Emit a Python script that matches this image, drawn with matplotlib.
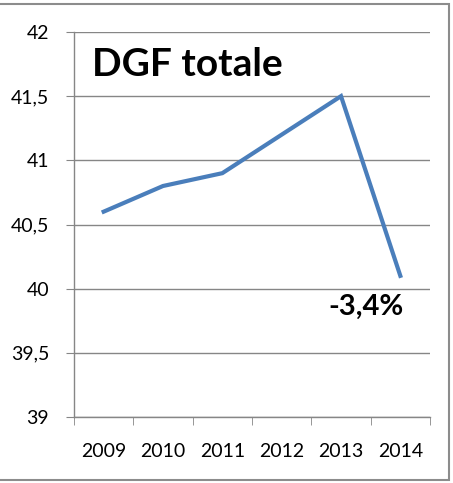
import matplotlib.pyplot as plt
from matplotlib.patches import Rectangle

years = ["2009", "2010", "2011", "2012", "2013", "2014"]
dgf = [40.6, 40.8, 40.9, 41.2, 41.5, 40.1]
y_ticks = [39, 39.5, 40, 40.5, 41, 41.5, 42]
y_labels = ["39", "39,5", "40", "40,5", "41", "41,5", "42"]

plt.rcParams["font.family"] = ["Lato", "DejaVu Sans"]

W, H = 453, 483
fig = plt.figure(figsize=(W / 100, H / 100), dpi=100)
ax = fig.add_axes([74 / W, 1 - 417 / H, (430 - 74) / W, (417 - 32) / H])

# chart border
fig.patches.append(Rectangle((-2 / W, 1 - 480 / H), 451 / W, 476 / H,
                             transform=fig.transFigure, fill=False,
                             edgecolor="#8c8c8c", linewidth=1.5))

x = range(len(years))
ax.plot(x, dgf, color="#4A7EBB", linewidth=3, solid_joinstyle="miter")

ax.set_xlim(-0.5, len(years) - 0.5)
ax.set_ylim(39, 42)
ax.set_yticks(y_ticks)
ax.set_yticklabels(y_labels)
ax.set_xticks(list(x))
ax.set_xticklabels(years)
ax.set_xticks([i - 0.5 for i in range(len(years) + 1)], minor=True)

ax.grid(axis="y", color="#868686", linewidth=1)
ax.set_axisbelow(True)
for s in ["top", "right"]:
    ax.spines[s].set_visible(False)
for s in ["left", "bottom"]:
    ax.spines[s].set_color("#868686")
    ax.spines[s].set_linewidth(1)

ax.tick_params(axis="y", length=6, color="#868686", labelsize=14, pad=12)
ax.tick_params(axis="x", which="major", length=0, labelsize=14, pad=19)
ax.tick_params(axis="x", which="minor", length=6, color="#868686")

ax.text(0.05, 0.886, "DGF totale", transform=ax.transAxes, fontsize=28,
        fontweight="bold", va="baseline", ha="left")
ax.text(4.42, 39.795, "-3,4%", fontsize=21, fontweight="bold",
        ha="center", va="baseline")

fig.savefig("out.png", dpi=100)
